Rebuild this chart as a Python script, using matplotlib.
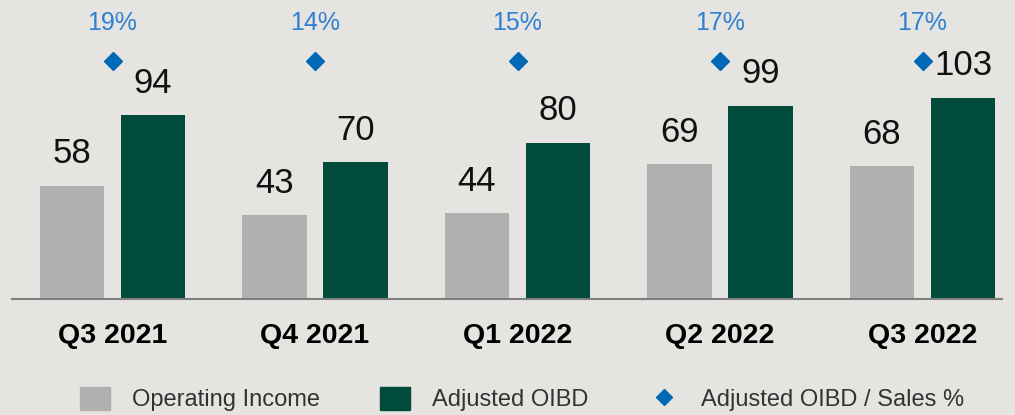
import matplotlib.pyplot as plt
import matplotlib.lines as mlines
import matplotlib.patches as mpatches
import numpy as np

quarters = ["Q3 2021", "Q4 2021", "Q1 2022", "Q2 2022", "Q3 2022"]
operating_income = [58, 43, 44, 69, 68]
adjusted_oibd = [94, 70, 80, 99, 103]
oibd_sales_pct = [19, 14, 15, 17, 17]

plt.rcParams['font.family'] = ['Liberation Sans', 'DejaVu Sans']

bg = '#e5e4e0'
gray = '#b0b0b0'
green = '#004b3c'
blue = '#0068b5'
pct_color = '#2e80d2'

fig = plt.figure(figsize=(10.15, 4.15), dpi=100, facecolor=bg)
ax = fig.add_axes([12 / 1015, 116 / 415, 990 / 1015, 299 / 415])
ax.set_facecolor(bg)

x = np.arange(len(quarters))
w = 0.32
off = 0.2
b1 = ax.bar(x - off, operating_income, w, color=gray)
b2 = ax.bar(x + off, adjusted_oibd, w, color=green)

for xi, v in zip(x, operating_income):
    ax.annotate(str(v), (xi - off, v), xytext=(0, 16), textcoords='offset points',
                ha='center', va='baseline', fontsize=25, color='#111111')
for xi, v in zip(x, adjusted_oibd):
    ax.annotate(str(v), (xi + off, v), xytext=(0, 16), textcoords='offset points',
                ha='center', va='baseline', fontsize=25, color='#111111')

# ratio markers sit on a fixed row above the bars
row = 121.7
ax.plot(x, [row] * len(x), linestyle='none', marker='D', markersize=9,
        color=blue)
for xi, p in zip(x, oibd_sales_pct):
    ax.text(xi, 141, f"{p}%", ha='center', va='center', fontsize=18,
            color=pct_color)

ax.set_xlim((12 - 112.5) / 202.5, (1002 - 112.5) / 202.5)
ax.set_ylim(0, 153)
ax.set_xticks(x)
ax.set_xticklabels(quarters, fontsize=20.5, fontweight='bold')
ax.tick_params(axis='x', length=0, pad=17)
ax.set_yticks([])
for s in ['top', 'left', 'right']:
    ax.spines[s].set_visible(False)
ax.spines['bottom'].set_color('#7f7f7f')
ax.spines['bottom'].set_linewidth(1.5)

handles = [
    mpatches.Patch(color=gray, label='Operating Income'),
    mpatches.Patch(color=green, label='Adjusted OIBD'),
    mlines.Line2D([], [], linestyle='none', marker='D', markersize=8,
                  color=blue, label='Adjusted OIBD / Sales %'),
]
fig.legend(handles=handles, loc='center left', bbox_to_anchor=(80 / 1015, 1 - 399 / 415),
           ncol=3, frameon=False, fontsize=17, handlelength=1.27, handleheight=1.15,
           handletextpad=0.93, columnspacing=2.55, borderpad=0, borderaxespad=0,
           labelcolor='#333333')

fig.savefig('out.png', dpi=100, facecolor=bg)
